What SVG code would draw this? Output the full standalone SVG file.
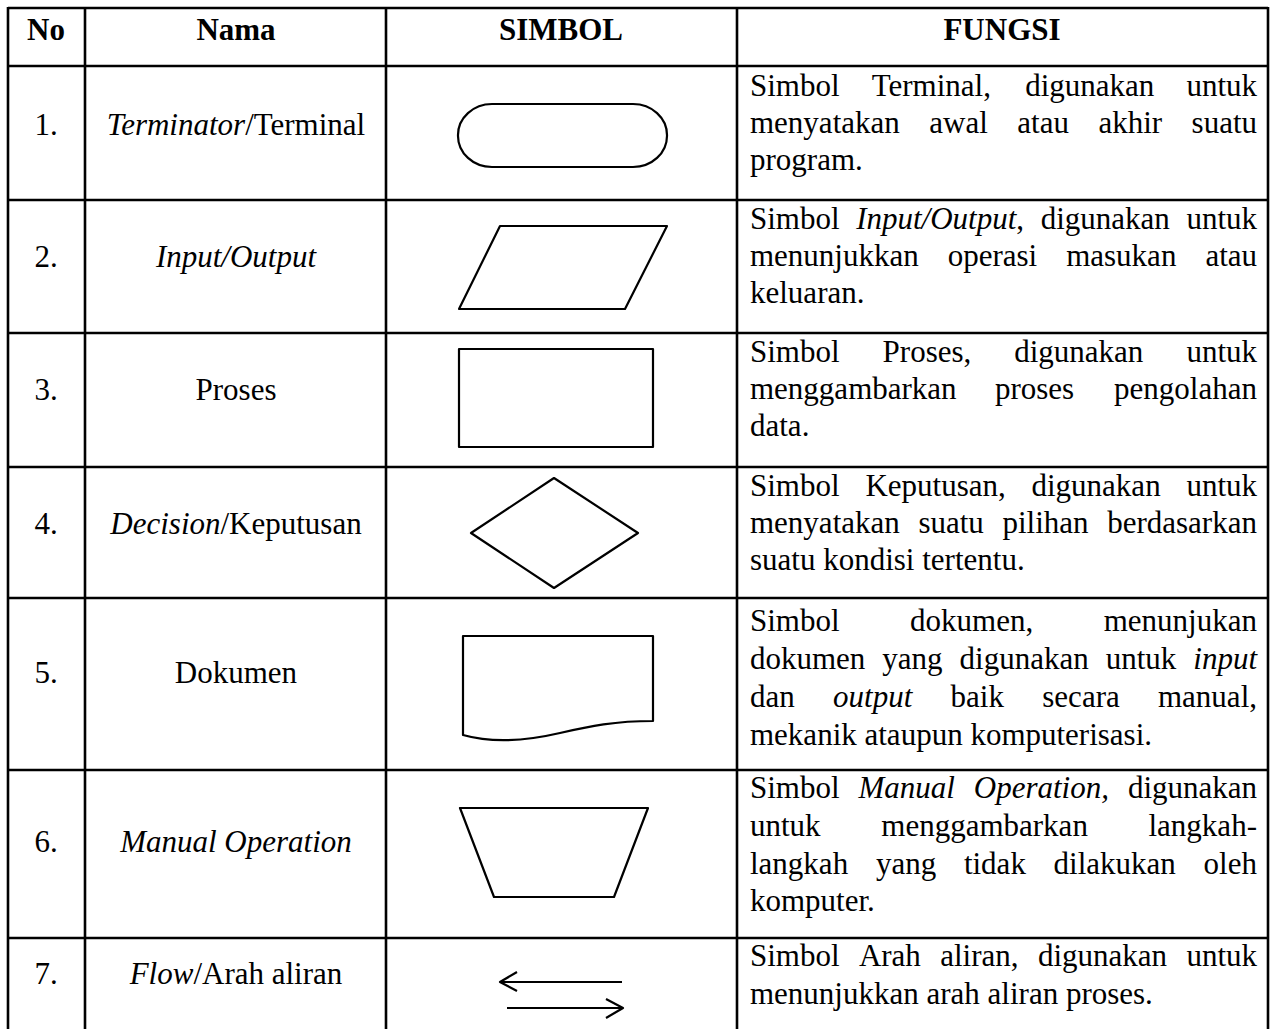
<svg xmlns="http://www.w3.org/2000/svg" width="1273" height="1029" viewBox="0 0 1273 1029">
<style>
text{font-family:"Liberation Serif","Times New Roman",serif;font-size:31px;fill:#000}
.b{font-weight:bold}
.i{font-style:italic}
.c{text-anchor:middle}
.grid line{stroke:#000;stroke-width:2.6}
.sym{fill:none;stroke:#000;stroke-width:2.2;stroke-linejoin:round}
</style>
<rect width="1273" height="1029" fill="#fff"/>
<g id="table-grid" class="grid">
<line x1="8" y1="8" x2="1268" y2="8"/>
<line x1="8" y1="66" x2="1268" y2="66"/>
<line x1="8" y1="200" x2="1268" y2="200"/>
<line x1="8" y1="333" x2="1268" y2="333"/>
<line x1="8" y1="467" x2="1268" y2="467"/>
<line x1="8" y1="598" x2="1268" y2="598"/>
<line x1="8" y1="770" x2="1268" y2="770"/>
<line x1="8" y1="938" x2="1268" y2="938"/>
<line x1="8" y1="7" x2="8" y2="1029"/>
<line x1="85" y1="7" x2="85" y2="1029"/>
<line x1="386" y1="7" x2="386" y2="1029"/>
<line x1="737" y1="7" x2="737" y2="1029"/>
<line x1="1268" y1="7" x2="1268" y2="1029"/>
</g>
<g id="header">
<text class="b c" x="46" y="40">No</text>
<text class="b c" x="236" y="40">Nama</text>
<text class="b c" x="561" y="40">SIMBOL</text>
<text class="b c" x="1002" y="40">FUNGSI</text>
</g>
<g id="row1">
<text class="c" x="46" y="135">1.</text>
<text class="c" x="236" y="135"><tspan class="i">Terminator</tspan>/Terminal</text>
<rect class="sym" x="458" y="104" width="209" height="63" rx="34" ry="31"/>
<text y="96"><tspan x="750">Simbol</tspan><tspan x="871.7">Terminal,</tspan><tspan x="1025.2">digunakan</tspan><tspan x="1186.4">untuk</tspan></text>
<text y="133"><tspan x="750">menyatakan</tspan><tspan x="929.3">awal</tspan><tspan x="1017.3">atau</tspan><tspan x="1098.4">akhir</tspan><tspan x="1191.6">suatu</tspan></text>
<text x="750" y="170">program.</text>
</g>
<g id="row2">
<text class="c" x="46" y="267">2.</text>
<text class="c i" x="236" y="267">Input/Output</text>
<polygon class="sym" points="500,226 667,226 625,309 459,309"/>
<text y="229"><tspan x="750">Simbol</tspan><tspan x="856.2" class="i">Input/Output</tspan><tspan>,</tspan><tspan x="1040.7">digunakan</tspan><tspan x="1186.4">untuk</tspan></text>
<text y="266"><tspan x="750">menunjukkan</tspan><tspan x="947.7">operasi</tspan><tspan x="1066.2">masukan</tspan><tspan x="1205.4">atau</tspan></text>
<text x="750" y="303">keluaran.</text>
</g>
<g id="row3">
<text class="c" x="46" y="400">3.</text>
<text class="c" x="236" y="400">Proses</text>
<rect class="sym" x="459" y="349" width="194" height="98"/>
<text y="362"><tspan x="750">Simbol</tspan><tspan x="882.6">Proses,</tspan><tspan x="1014.2">digunakan</tspan><tspan x="1186.4">untuk</tspan></text>
<text y="399"><tspan x="750">menggambarkan</tspan><tspan x="994.9">proses</tspan><tspan x="1114.1">pengolahan</tspan></text>
<text x="750" y="436">data.</text>
</g>
<g id="row4">
<text class="c" x="46" y="534">4.</text>
<text class="c" x="236" y="534"><tspan class="i">Decision</tspan>/Keputusan</text>
<polygon class="sym" points="554,478 638,533 554,588 471,533"/>
<text y="496"><tspan x="750">Simbol</tspan><tspan x="865.4">Keputusan,</tspan><tspan x="1031.5">digunakan</tspan><tspan x="1186.4">untuk</tspan></text>
<text y="533"><tspan x="750">menyatakan</tspan><tspan x="918.4">suatu</tspan><tspan x="1002.5">pilihan</tspan><tspan x="1107.2">berdasarkan</tspan></text>
<text x="750" y="570">suatu kondisi tertentu.</text>
</g>
<g id="row5">
<text class="c" x="46" y="683">5.</text>
<text class="c" x="236" y="683">Dokumen</text>
<path class="sym" d="M463,636 L653,636 L653,721 C615,721 590,726 560,733 C530,740 495,744 463,735 Z"/>
<text y="631"><tspan x="750">Simbol</tspan><tspan x="910.1">dokumen,</tspan><tspan x="1103.7">menunjukan</tspan></text>
<text y="669"><tspan x="750">dokumen</tspan><tspan x="882.3">yang</tspan><tspan x="959.6">digunakan</tspan><tspan x="1105.7">untuk</tspan><tspan x="1193.3" class="i">input</tspan></text>
<text y="707"><tspan x="750">dan</tspan><tspan x="833.1" class="i">output</tspan><tspan x="950.6">baik</tspan><tspan x="1042.3">secara</tspan><tspan x="1158">manual,</tspan></text>
<text x="750" y="745">mekanik ataupun komputerisasi.</text>
</g>
<g id="row6">
<text class="c" x="46" y="852">6.</text>
<text class="c i" x="236" y="852">Manual Operation</text>
<polygon class="sym" points="460,808 648,808 614,897 494,897"/>
<text y="798"><tspan x="750">Simbol</tspan><tspan x="858.5" class="i">Manual</tspan><tspan x="973.8" class="i">Operation,</tspan><tspan x="1127.9">digunakan</tspan></text>
<text y="836"><tspan x="750">untuk</tspan><tspan x="881.3">menggambarkan</tspan><tspan x="1148.5">langkah-</tspan></text>
<text y="874"><tspan x="750">langkah</tspan><tspan x="875.9">yang</tspan><tspan x="963.9">tidak</tspan><tspan x="1053.6">dilakukan</tspan><tspan x="1203.6">oleh</tspan></text>
<text x="750" y="911">komputer.</text>
</g>
<g id="row7">
<text class="c" x="46" y="984">7.</text>
<text class="c" x="236" y="984"><tspan class="i">Flow</tspan>/Arah aliran</text>
<g id="flow-arrows" class="sym">
<line x1="622" y1="982" x2="500" y2="982"/>
<polyline points="517,972 500,982 517,991"/>
<line x1="507" y1="1008" x2="622" y2="1008"/>
<polyline points="606,999 623,1008 606,1018"/>
</g>
<text y="966"><tspan x="750">Simbol</tspan><tspan x="858.9">Arah</tspan><tspan x="940.2">aliran,</tspan><tspan x="1037.9">digunakan</tspan><tspan x="1186.4">untuk</tspan></text>
<text x="750" y="1004">menunjukkan arah aliran proses.</text>
</g>
</svg>
